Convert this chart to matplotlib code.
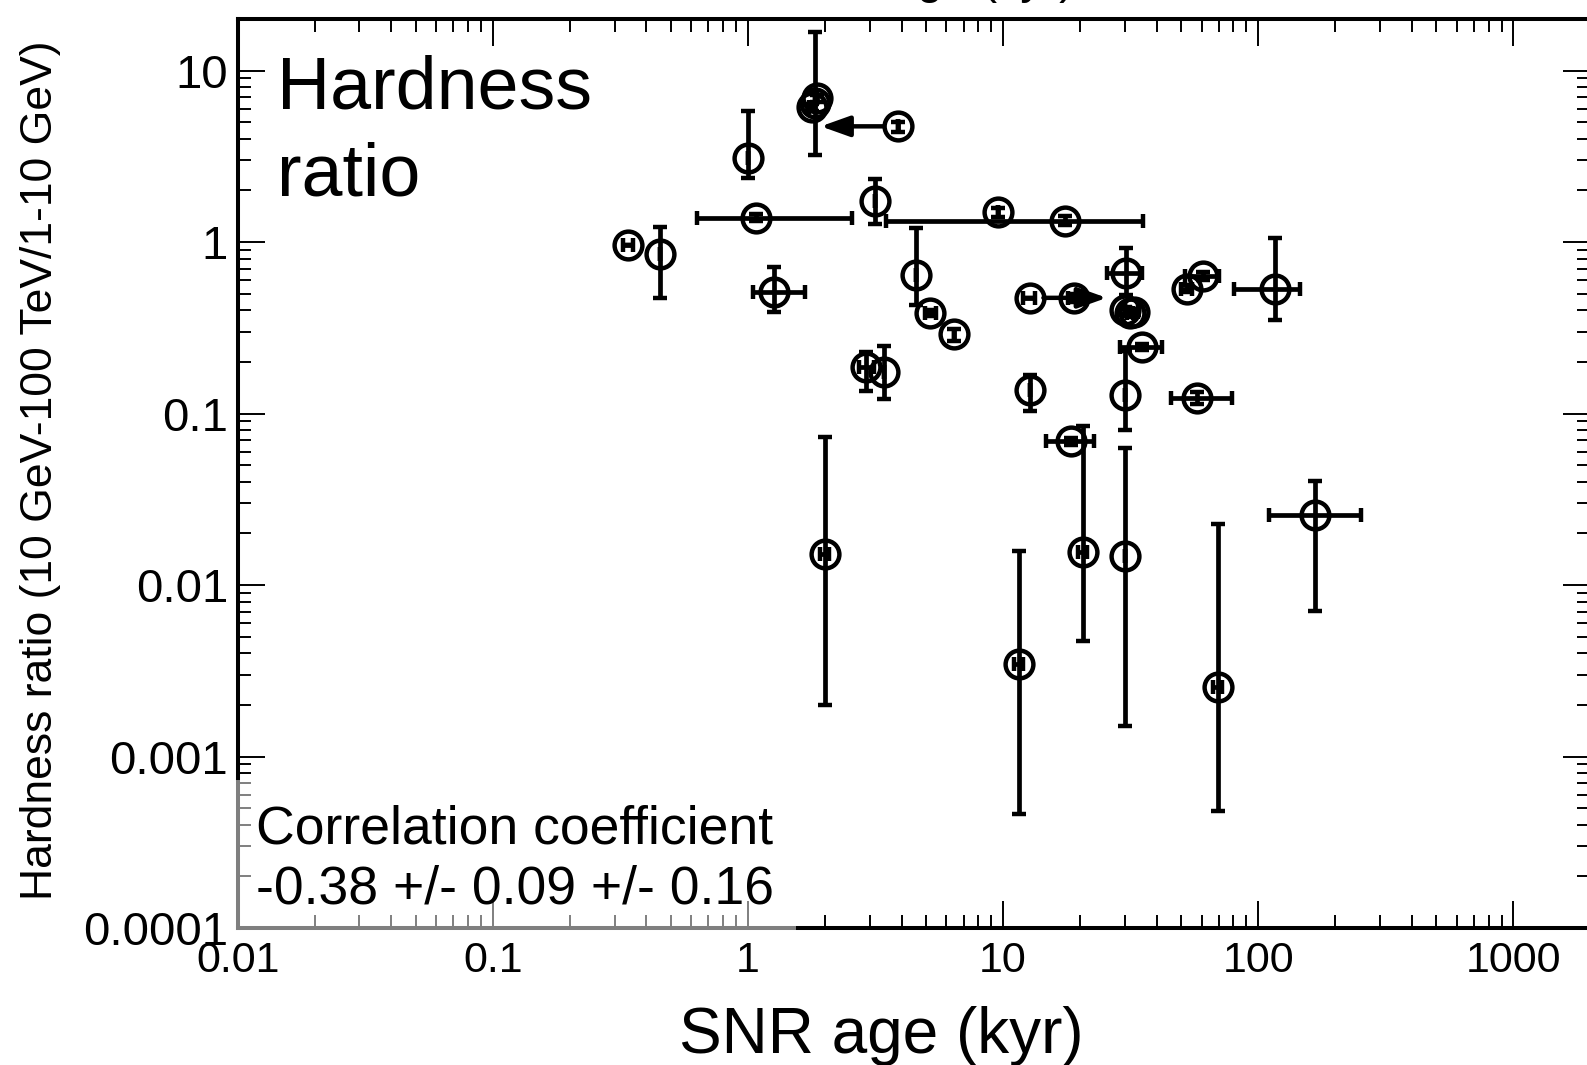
import matplotlib
matplotlib.use("Agg")
import matplotlib.pyplot as plt
import numpy as np
from matplotlib.patches import Rectangle
from matplotlib.ticker import FixedLocator, LogLocator, FuncFormatter, NullFormatter

plt.rcParams["font.family"] = ["Liberation Sans", "DejaVu Sans"]

# SNR age (kyr): value, lower end, upper end of the error bar
age = [0.34, 0.452, 1.0, 1.83, 1.79, 1.86, 3.87, 1.08, 3.16, 9.55, 17.5, 1.26,
       4.56, 5.18, 6.45, 2.91, 3.40, 12.7, 19.0, 30.3, 30.2, 31.4, 32.6, 35.1,
       30.2, 30.2, 12.7, 57.4, 18.5, 20.5, 11.5, 69.5, 52.4, 60.7, 116.8, 167, 2.0]
age_lo = [0.325, 0.452, 1.0, 1.83, 1.74, 1.86, 3.87, 0.634, 3.16, 9.55, 3.47, 1.05,
          4.56, 4.95, 6.45, 2.72, 3.40, 12.0, 18.0, 25.5, 30.2, 30.5, 31.5, 28.7,
          30.2, 30.2, 12.7, 45.7, 14.7, 19.6, 11.0, 66.5, 50.0, 51.5, 80.5, 110, 1.92]
age_hi = [0.355, 0.452, 1.0, 1.83, 1.84, 1.86, 3.87, 2.56, 3.16, 9.55, 35.3, 1.68,
          4.56, 5.45, 6.45, 3.12, 3.40, 13.4, 20.1, 35.1, 30.2, 32.3, 33.7, 42.1,
          30.2, 30.2, 12.7, 79.1, 22.8, 21.4, 12.0, 72.5, 55.0, 70.5, 146, 254, 2.08]

# hardness ratio (10 GeV-100 TeV / 1-10 GeV)
hr = [0.96, 0.85, 3.1, 6.5, 6.1, 6.9, 4.73, 1.39, 1.73, 1.49, 1.33, 0.51,
      0.64, 0.385, 0.29, 0.187, 0.175, 0.473, 0.473, 0.656, 0.40, 0.385, 0.39, 0.246,
      0.128, 0.0147, 0.137, 0.123, 0.069, 0.0155, 0.00345, 0.00256, 0.535, 0.632, 0.535, 0.0256, 0.0151]
hr_lo = [0.96, 0.47, 2.36, 3.23, 5.8, 6.6, 4.4, 1.33, 1.28, 1.40, 1.25, 0.39,
         0.43, 0.37, 0.265, 0.135, 0.121, 0.473, 0.45, 0.492, 0.38, 0.37, 0.375, 0.236,
         0.080, 0.0015, 0.104, 0.113, 0.066, 0.00473, 0.00046, 0.00048, 0.51, 0.60, 0.35, 0.00702, 0.0020]
hr_hi = [0.96, 1.23, 5.8, 16.9, 6.4, 7.2, 5.0, 1.45, 2.33, 1.58, 1.42, 0.72,
         1.21, 0.40, 0.31, 0.23, 0.249, 0.473, 0.50, 0.921, 0.42, 0.40, 0.405, 0.256,
         0.233, 0.063, 0.168, 0.134, 0.072, 0.085, 0.0159, 0.0227, 0.56, 0.665, 1.06, 0.0406, 0.073]

# age limits drawn as arrows
arrow_from = [3.87, 12.7]
arrow_to = [1.93, 25.5]
arrow_hr = [4.73, 0.473]

x_ticks = [0.01, 0.1, 1, 10, 100, 1000]
y_ticks = [0.0001, 0.001, 0.01, 0.1, 1, 10]

age = np.array(age)
hr = np.array(hr)
xerr = [age - np.array(age_lo), np.array(age_hi) - age]
yerr = [hr - np.array(hr_lo), np.array(hr_hi) - hr]

fig = plt.figure(figsize=(15.87, 10.65), dpi=100)
ax = fig.add_axes([0.1498, 0.1286, 0.8521, 0.8536])

ax.errorbar(age, hr, xerr=xerr, yerr=yerr, fmt="o", mfc="none", mec="k",
            ms=20, mew=3.2, ecolor="k", elinewidth=3.4, capsize=5.3,
            capthick=4.0, zorder=3)

for xs, xe, yv in zip(arrow_from, arrow_to, arrow_hr):
    ax.annotate("", xy=(xe, yv), xytext=(xs, yv),
                arrowprops=dict(arrowstyle="-|>,head_length=0.7,head_width=0.25",
                                mutation_scale=25, lw=3.2, color="k",
                                shrinkA=10, shrinkB=0))

ax.set_xscale("log")
ax.set_yscale("log")
ax.set_xlim(0.01, 2000)
ax.set_ylim(0.0001, 20)

fmt = FuncFormatter(lambda v, p: "%g" % v)
ax.xaxis.set_major_locator(FixedLocator(x_ticks))
ax.yaxis.set_major_locator(FixedLocator(y_ticks))
ax.xaxis.set_major_formatter(fmt)
ax.yaxis.set_major_formatter(fmt)
ax.xaxis.set_minor_locator(LogLocator(base=10, subs=np.arange(2, 10), numticks=20))
ax.yaxis.set_minor_locator(LogLocator(base=10, subs=np.arange(2, 10), numticks=20))
ax.xaxis.set_minor_formatter(NullFormatter())
ax.yaxis.set_minor_formatter(NullFormatter())

ax.tick_params(which="both", direction="in", top=True, right=True, width=1.4)
ax.tick_params(axis="x", labelsize=31, pad=9)
ax.tick_params(axis="y", labelsize=34, pad=7)
ax.tick_params(which="major", length=19.5)
ax.tick_params(which="minor", length=9.5)
for s in ax.spines.values():
    s.set_linewidth(2.9)

# faded box behind the correlation text
ax.add_patch(Rectangle((-0.004, -0.004), 0.417, 0.167, transform=ax.transAxes,
                       facecolor="white", edgecolor="none", alpha=0.5,
                       clip_on=False, zorder=2.6))

fig.text(277 / 1587, 1 - 108.5 / 1065, "Hardness", fontsize=53, va="baseline")
fig.text(277 / 1587, 1 - 195 / 1065, "ratio", fontsize=53, va="baseline")
fig.text(256 / 1587, 1 - 843 / 1065, "Correlation coefficient", fontsize=38.5,
         va="baseline", zorder=5)
fig.text(256 / 1587, 1 - 904 / 1065, "-0.38 +/- 0.09 +/- 0.16", fontsize=38.5,
         va="baseline", zorder=5)

fig.text(41 / 1587, 1 - 470 / 1065, "Hardness ratio (10 GeV-100 TeV/1-10 GeV)",
         fontsize=32, rotation=90, ha="center", va="center")
fig.text(881 / 1587, 1 - 1053 / 1065, "SNR age (kyr)", fontsize=46,
         ha="center", va="baseline")
# x label of the panel above, cut by the top edge
fig.text(927 / 1587, 1 + 6.8 / 1065, "SNR age (kyr)", fontsize=33.5,
         ha="center", va="baseline")

fig.savefig("out.png", dpi=100)
